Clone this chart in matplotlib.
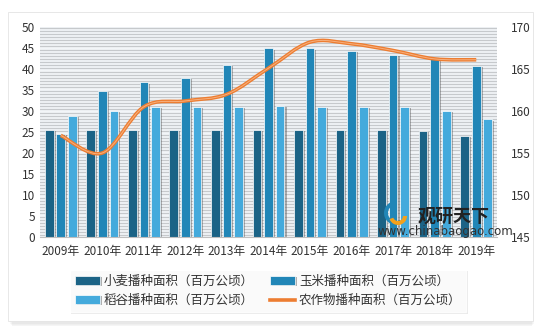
import numpy as np
import matplotlib
matplotlib.use("Agg")
import matplotlib.pyplot as plt
from matplotlib.path import Path
from matplotlib.patches import PathPatch, Rectangle, Wedge
import matplotlib.patheffects as pe

plt.rcParams['font.family'] = ['Noto Sans CJK SC', 'DejaVu Sans']

# data
years = ['2009年', '2010年', '2011年', '2012年', '2013年', '2014年',
         '2015年', '2016年', '2017年', '2018年', '2019年']
wheat = [25.4, 25.4, 25.4, 25.4, 25.4, 25.4, 25.4, 25.4, 25.4, 25.2, 24.0]
corn = [24.5, 34.8, 36.8, 37.9, 40.9, 44.9, 44.9, 44.3, 43.3, 42.8, 40.8]
rice = [28.9, 30.1, 30.9, 31.0, 31.0, 31.1, 31.0, 31.0, 31.0, 30.0, 28.0]
total = [157.1, 155.0, 160.5, 161.2, 162.0, 165.1, 168.2, 168.0, 167.2, 166.2, 166.1]

c_wheat = '#1b6386'
c_corn = '#2186b7'
c_rice = '#44aadc'
c_line = '#ed7d31'


def smooth_path(xs, ys, t=1 / 6.0):
    # catmull-rom style bezier control points, like office "smoothed line"
    verts = [(xs[0], ys[0])]
    codes = [Path.MOVETO]
    n = len(xs)
    for i in range(n - 1):
        x0, y0 = xs[max(i - 1, 0)], ys[max(i - 1, 0)]
        x1, y1 = xs[i], ys[i]
        x2, y2 = xs[i + 1], ys[i + 1]
        x3, y3 = xs[min(i + 2, n - 1)], ys[min(i + 2, n - 1)]
        verts += [(x1 + (x2 - x0) * t, y1 + (y2 - y0) * t),
                  (x2 - (x3 - x1) * t, y2 - (y3 - y1) * t),
                  (x2, y2)]
        codes += [Path.CURVE4] * 3
    return Path(verts, codes)


fig = plt.figure(figsize=(5.43, 3.32), dpi=100)
fig.patch.set_facecolor('white')

# card with soft shadow
for k, a in enumerate([0.05, 0.06, 0.08]):
    fig.patches.append(Rectangle((10 / 543 + k * 0.002, 8 / 332 - k * 0.003),
                                 (524 - 2 * k) / 543, 312 / 332,
                                 transform=fig.transFigure, facecolor='#888888',
                                 alpha=a, edgecolor='none', zorder=0))
fig.patches.append(Rectangle((8 / 543, 11 / 332), 525 / 543, 309 / 332,
                             transform=fig.transFigure, facecolor='white',
                             edgecolor='#e4e4e4', lw=0.6, zorder=1))

ax = fig.add_axes([40 / 543, 1 - 237 / 332, 457 / 543, 210 / 332])
ax.set_zorder(2)
ax.set_facecolor('#f2f5f8')

x = np.arange(len(years))
w = 0.21
off = 0.28
shadow = [pe.withSimplePatchShadow(offset=(1.5, -0.8), shadow_rgbFace='#555555', alpha=0.45)]

# stripes in plot area
for yy in np.arange(0.375, 50, 0.75):
    ax.axhline(yy, color='#c6c9cc', lw=0.9, zorder=0)

b1 = ax.bar(x - off, wheat, w, color=c_wheat, edgecolor='white', lw=0.5, zorder=2, path_effects=shadow)
b2 = ax.bar(x, corn, w, color=c_corn, edgecolor='white', lw=0.5, zorder=2, path_effects=shadow)
b3 = ax.bar(x + off, rice, w, color=c_rice, edgecolor='white', lw=0.5, zorder=2, path_effects=shadow)

ax.set_xlim(-0.5, len(years) - 0.5)
ax.set_ylim(0, 50)
ax.set_yticks(np.arange(0, 51, 5))
ax.set_xticks(x)
ax.set_xticklabels(years)
ax.tick_params(length=0, labelsize=8.5, colors='#333333')
ax.tick_params(axis='x', pad=6)
for s in ['top', 'right', 'left']:
    ax.spines[s].set_visible(False)
ax.spines['bottom'].set_color('#bfbfbf')

ax2 = ax.twinx()
ax2.set_ylim(145, 170)
ax2.set_yticks(np.arange(145, 171, 5))
ax2.tick_params(length=0, labelsize=8.5, colors='#333333', pad=10)
for s in ax2.spines.values():
    s.set_visible(False)

p = smooth_path(list(x), total)
ax2.add_patch(PathPatch(p, facecolor='none', edgecolor=c_line, lw=2.6, zorder=3))
ax2.add_patch(PathPatch(p, facecolor='none', edgecolor='#f6b07e', lw=0.7, zorder=4))
line_handle, = ax2.plot([], [], color=c_line, lw=2.6)

# watermark
fig.text(418 / 543, 1 - 216 / 332, '观研天下', fontsize=13, fontweight='bold',
         color='#222222', va='center', ha='left', zorder=5)
fig.text(378 / 543, 1 - 232 / 332, 'www.chinabaogao.com', fontsize=8.5,
         color='#333333', va='center', ha='left', family='DejaVu Sans', zorder=5)
fig.patches.append(Wedge((396, 332 - 213), 12, 100, 300, width=4,
                         transform=None, facecolor='#2186b7', zorder=5))
fig.patches.append(Wedge((398, 332 - 216), 9, 200, 360, width=4,
                         transform=None, facecolor='#f4a11c', zorder=5))

leg = fig.legend([b1, b3, b2, line_handle],
                 ['小麦播种面积（百万公顷）', '稻谷播种面积（百万公顷）',
                  '玉米播种面积（百万公顷）', '农作物播种面积（百万公顷）'],
                 ncol=2, loc='center', bbox_to_anchor=(268 / 543, 1 - 291 / 332),
                 prop={'size': 9}, frameon=True, fancybox=False, edgecolor='white',
                 handlelength=2.0, handleheight=0.7, handletextpad=0.35,
                 columnspacing=1.25, labelspacing=0.5, borderpad=0.4)
leg.get_frame().set_path_effects([pe.withSimplePatchShadow(offset=(1, -1), alpha=0.12)])
for t in leg.get_texts():
    t.set_color('#333333')

fig.savefig('out.png', dpi=100)
